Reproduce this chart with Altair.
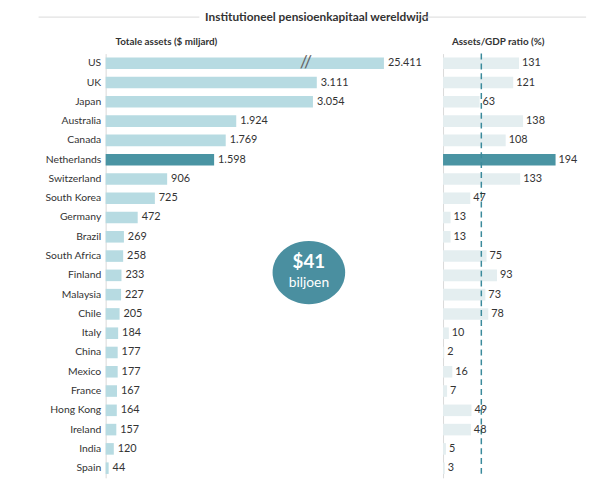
import altair as alt
import pandas as pd

# ---- data ----
countries = ["US", "UK", "Japan", "Australia", "Canada", "Netherlands", "Switzerland",
             "South Korea", "Germany", "Brazil", "South Africa", "Finland", "Malaysia",
             "Chile", "Italy", "China", "Mexico", "France", "Hong Kong", "Ireland",
             "India", "Spain"]
assets = [25411, 3111, 3054, 1924, 1769, 1598, 906, 725, 472, 269, 258, 233, 227,
          205, 184, 177, 177, 167, 164, 157, 120, 44]
ratio = [131, 121, 63, 138, 108, 194, 133, 47, 13, 13, 75, 93, 73, 78, 10, 2, 16,
         7, 49, 48, 5, 3]
highlight = "Netherlands"
broken_cap = 4100      # US bar is drawn with an axis break
break_at = 2950        # position of the "//" break mark
ratio_ref = 66         # dashed reference line in the ratio panel

title = "Institutioneel pensioenkapitaal wereldwijd"
sub_left = "Totale assets ($ miljard)"
sub_right = "Assets/GDP ratio (%)"
bubble_big = "$41"
bubble_small = "biljoen"

# ---- styles ----
FONT = "Lato"
DARK = "#4a94a3"
LIGHT = "#b7dbe2"
PALE = "#e4eef0"
TEAL = "#3b8a9c"
TXT = "#333333"
LINE = "#d9d9d9"

df = pd.DataFrame({
    "country": countries,
    "assets": assets,
    "display": [min(a, broken_cap) for a in assets],
    "label": [f"{a:,}".replace(",", ".") for a in assets],
    "ratio": ratio,
    "brk": [break_at if a > broken_cap else None for a in assets],
    "brktxt": ["//" if a > broken_cap else "" for a in assets],
})

ysc = alt.Scale(paddingInner=0.4, paddingOuter=0.2)
W1, W2, H = 310, 135, 430
xsc_l = alt.Scale(domain=[0, W1 / 0.0688])
xsc_r = alt.Scale(domain=[0, W2 / 0.588])

color_l = alt.condition(alt.datum.country == highlight, alt.value(DARK), alt.value(LIGHT))
color_r = alt.condition(alt.datum.country == highlight, alt.value(DARK), alt.value(PALE))

Y = alt.Y("country:N", sort=countries, scale=ysc,
          axis=alt.Axis(title=None, ticks=False, labelPadding=5, domainColor=LINE,
                        labelFont=FONT, labelFontSize=10.5, labelColor=TXT))

base_l = alt.Chart(df).encode(y=Y, x=alt.X("display:Q", scale=xsc_l, axis=None))
bars_l = base_l.mark_bar().encode(color=color_l)
labels_l = base_l.mark_text(align="left", dx=4, font=FONT, fontSize=11, color=TXT).encode(text="label:N")
brk = base_l.mark_text(font=FONT, fontSize=18, color="#666666").encode(
    x=alt.X("brk:Q", scale=xsc_l, axis=None), text="brktxt:N")

one = pd.DataFrame({"a": [0]})
t_title = alt.Chart(pd.DataFrame({"t": [title]})).mark_text(
    font=FONT, fontSize=12, fontWeight="bold", color=TXT, align="center").encode(
    x=alt.value(214), y=alt.value(-37), text="t:N")
line_l = alt.Chart(one).mark_rule(color=LINE, strokeWidth=1).encode(
    x=alt.value(-68), x2=alt.value(95), y=alt.value(-37))
t_sub_l = alt.Chart(pd.DataFrame({"t": [sub_left]})).mark_text(
    font=FONT, fontSize=10, fontWeight="bold", color=TXT, align="left").encode(
    x=alt.value(10), y=alt.value(-12), text="t:N")

ellipse = "M -1.15 0 A 1.15 1 0 1 0 1.15 0 A 1.15 1 0 1 0 -1.15 0 Z"
bubble = alt.Chart(one).mark_point(
    shape=ellipse, filled=True, size=4096, color="#4a8fa0", opacity=1, strokeWidth=0).encode(
    x=alt.value(206), y=alt.value(222))
b_big = alt.Chart(pd.DataFrame({"t": [bubble_big]})).mark_text(
    font=FONT, fontSize=19, fontWeight="bold", color="white").encode(
    x=alt.value(206), y=alt.value(211), text="t:N")
b_small = alt.Chart(pd.DataFrame({"t": [bubble_small]})).mark_text(
    font=FONT, fontSize=14, color="white").encode(
    x=alt.value(206), y=alt.value(233), text="t:N")

left = alt.layer(bars_l, labels_l, brk, line_l, t_title, t_sub_l, bubble, b_big, b_small).properties(
    width=W1, height=H)

base_r = alt.Chart(df).encode(
    y=alt.Y("country:N", sort=countries, scale=ysc,
            axis=alt.Axis(title=None, labels=False, ticks=False, domainColor=LINE)),
    x=alt.X("ratio:Q", scale=xsc_r, axis=None),
)
bars_r = base_r.mark_bar().encode(color=color_r)
labels_r = base_r.mark_text(align="left", dx=3, font=FONT, fontSize=11, color=TXT).encode(text="ratio:Q")
ref = alt.Chart(pd.DataFrame({"r": [ratio_ref]})).mark_rule(
    color=TEAL, strokeDash=[6, 4], strokeWidth=1.5).encode(x=alt.X("r:Q", scale=xsc_r, axis=None))
line_r = alt.Chart(one).mark_rule(color=LINE, strokeWidth=1).encode(
    x=alt.value(-22), x2=alt.value(145), y=alt.value(-37))
t_sub_r = alt.Chart(pd.DataFrame({"t": [sub_right]})).mark_text(
    font=FONT, fontSize=10, fontWeight="bold", color=TXT, align="left").encode(
    x=alt.value(9), y=alt.value(-12), text="t:N")

right = alt.layer(bars_r, ref, labels_r, line_r, t_sub_r).properties(width=W2, height=H)

chart = alt.hconcat(left, right, spacing=32, bounds="flush").properties(
    padding={"left": 30, "top": 0, "right": 5, "bottom": 0}
).configure_view(stroke=None)

chart.save("out.html", embed_options={"renderer": "svg", "actions": False})
